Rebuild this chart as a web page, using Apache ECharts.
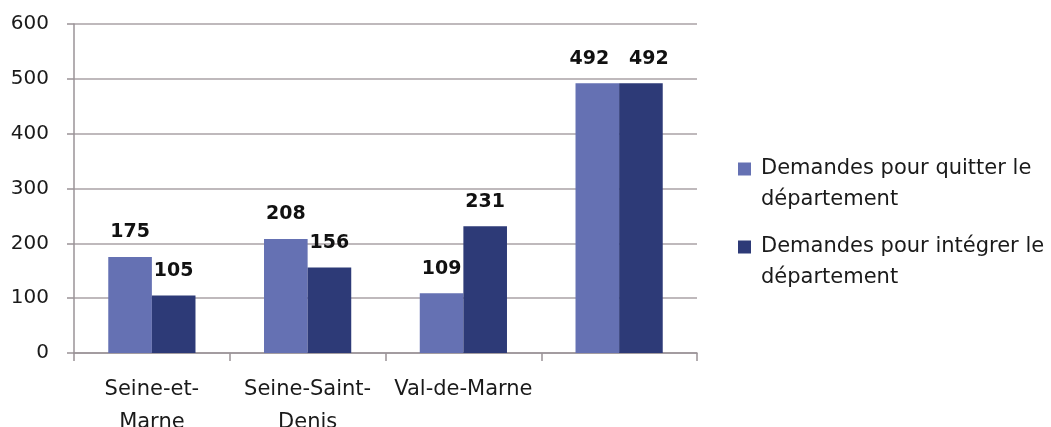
<!DOCTYPE html>
<html><head><meta charset="utf-8">
<script src="https://cdn.jsdelivr.net/npm/echarts@6/dist/echarts.min.js"></script>
<style>html,body{margin:0;padding:0;background:#fff}#c{width:1051px;height:427px}</style>
</head><body><div id="c"></div>
<script>
const categories = ['Seine-et-\nMarne', 'Seine-Saint-\nDenis', 'Val-de-Marne', ''];
const quitter = [175, 208, 109, 492];
const integrer = [105, 156, 231, 492];
const seriesNames = ['Demandes pour quitter le\ndépartement', 'Demandes pour intégrer le\ndépartement'];
const yTicks = [0, 100, 200, 300, 400, 500, 600];

const FONT = 'DejaVu Sans';
const c1 = '#6571B3', c2 = '#2D3A77';
const chart = echarts.init(document.getElementById('c'));
const legendCommon = {
  left: 738, orient: 'vertical', padding: 0,
  itemWidth: 13, itemHeight: 13, icon: 'rect',
  formatter: function (name) {
    // leading blank line so the icon sits beside the first text line
    return '{s| }\n' + name.split('\n').map(l => '{s| }{t|' + l + '}').join('\n');
  },
  textStyle: {
    fontFamily: FONT, fontSize: 21, color: '#1a1a1a', lineHeight: 31,
    rich: {
      s: { width: 5, fontSize: 21, lineHeight: 31 },
      t: { fontFamily: FONT, fontSize: 21, color: '#1a1a1a', lineHeight: 31 }
    }
  }
};
// Excel nudges the two equal top labels apart so they do not collide
function withLabels(values, other, dx) {
  return values.map((v, i) => (v === other[i] && v > 400) ? { value: v, label: { offset: [dx, 0] } } : v);
}
const labelStyle = { show: true, position: 'top', distance: 15, fontFamily: FONT, fontSize: 19, fontWeight: 'bold', color: '#111' };
chart.setOption({
  animation: false,
  grid: { left: 74, right: 354, top: 24, bottom: 74, containLabel: false, outerBoundsMode: 'none' },
  legend: [
    Object.assign({}, legendCommon, { top: 122.5, data: [seriesNames[0]] }),
    Object.assign({}, legendCommon, { top: 200.5, data: [seriesNames[1]] })
  ],
  xAxis: {
    type: 'category', data: categories,
    axisLine: { lineStyle: { color: '#9a9397', width: 1.5 } },
    axisTick: { show: true, length: 8, alignWithLabel: false, lineStyle: { color: '#9a9397', width: 1.5 } },
    axisLabel: { interval: 0, fontFamily: FONT, fontSize: 21, color: '#1a1a1a', lineHeight: 33, margin: 20 }
  },
  yAxis: {
    type: 'value', min: yTicks[0], max: yTicks[yTicks.length - 1], interval: 100,
    axisLine: { show: true, lineStyle: { color: '#9a9397', width: 1.5 } },
    axisTick: { show: true, length: 7, lineStyle: { color: '#9a9397', width: 1.5 } },
    splitLine: { lineStyle: { color: '#aaa2a6', width: 1.5 } },
    axisLabel: { fontFamily: FONT, fontSize: 20, color: '#1a1a1a', margin: 25 }
  },
  series: [
    { name: seriesNames[0], type: 'bar', data: withLabels(quitter, integrer, -8), barGap: '0%', barCategoryGap: '44%',
      itemStyle: { color: c1 }, label: labelStyle },
    { name: seriesNames[1], type: 'bar', data: withLabels(integrer, quitter, 8), barGap: '0%', barCategoryGap: '44%',
      itemStyle: { color: c2 }, label: labelStyle }
  ]
});
</script></body></html>
